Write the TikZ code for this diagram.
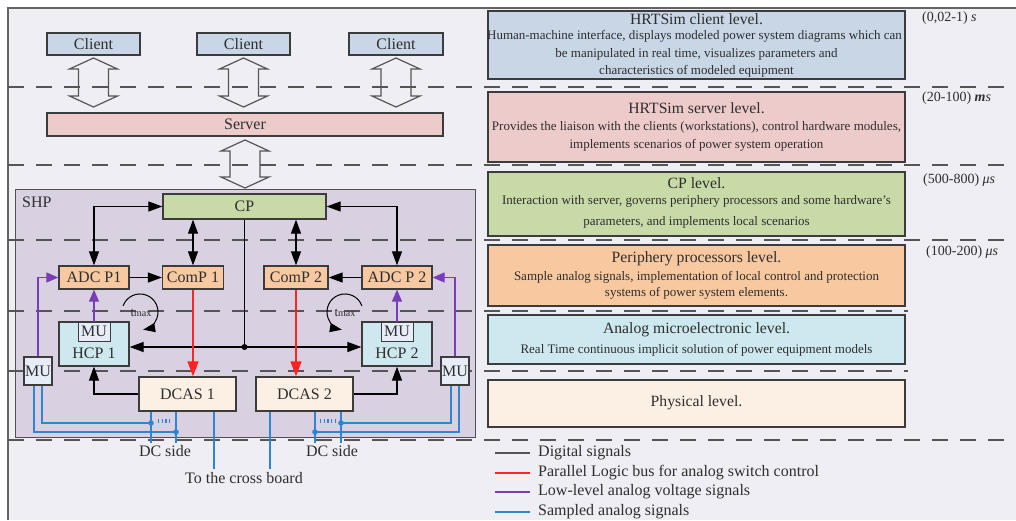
\documentclass[tikz,border=0pt]{standalone}
\usepackage{fontspec}
\setmainfont{Liberation Serif}
\usetikzlibrary{arrows.meta,calc}
\definecolor{bgc}{HTML}{EFEEF4}
\definecolor{bord}{HTML}{3C3C3C}
\definecolor{txt}{HTML}{2E2E2E}
\definecolor{dashc}{HTML}{555555}
\definecolor{clientc}{HTML}{C8D6E6}
\definecolor{serverc}{HTML}{EDCBCB}
\definecolor{cpc}{HTML}{C8DAA8}
\definecolor{perc}{HTML}{F8C8A0}
\definecolor{hcpc}{HTML}{CDE8EE}
\definecolor{muc}{HTML}{E6EDF6}
\definecolor{dcasc}{HTML}{FCEFE3}
\definecolor{shpc}{HTML}{D9D0E1}
\definecolor{sigblue}{HTML}{2E86D1}
\definecolor{sigpurple}{HTML}{7A3DB8}
\definecolor{sigred}{HTML}{FF2424}
\newcommand\fsA{\fontsize{16}{18}\selectfont}
\newcommand\fsH{\fontsize{15.7}{18}\selectfont}
\newcommand\fsB{\fontsize{13}{15}\selectfont}
\newcommand\fsL{\fontsize{16}{18}\selectfont}
\newcommand\fsT{\fontsize{14}{16}\selectfont}
\newcommand\harrow[3]{%
  \draw[harrowstyle] (#1,#2) -- ({#1+24},{#2+11}) -- ({#1+15},{#2+11}) -- ({#1+15},{#3-11}) -- ({#1+24},{#3-11}) -- (#1,#3) -- ({#1-24},{#3-11}) -- ({#1-15},{#3-11}) -- ({#1-15},{#2+11}) -- ({#1-24},{#2+11}) -- cycle;}
\begin{document}
\begin{tikzpicture}[x=1pt,y=-1pt,
  >={Triangle[length=14pt,width=10pt]},
  box/.style={draw=bord, line width=1.3pt, inner sep=0pt, font=\fsA, text=txt},
  lvbox/.style={draw=bord, line width=1.5pt, inner sep=0pt, minimum width=417pt},
  lvtitle/.style={font=\fsH, text=txt, inner sep=0pt},
  lvtext/.style={font=\fsB, text=txt, inner sep=0pt},
  dashline/.style={draw=dashc, line width=1.5pt, dash pattern=on 16pt off 12pt},
  harrowstyle/.style={draw=dashc, line width=1.2pt, line join=miter},
  conn/.style={draw=black, line width=1.2pt},
  redbus/.style={draw=sigred, line width=1.3pt},
  purp/.style={draw=sigpurple, line width=1.2pt},
  sig/.style={draw=sigblue, line width=1.2pt},
  lbl/.style={font=\fsA, text=txt, inner sep=0pt},
  leg/.style={font=\fsL, text=txt, inner sep=0pt, anchor=west},
  tlbl/.style={font=\fsT, text=txt, inner sep=0pt, anchor=west}
]
\useasboundingbox (0,0) rectangle (1016,520);
% background and frame
\fill[white] (0,0) rectangle (1016,520);
\fill[bgc] (8,8) rectangle (1016,520);
\draw[draw=bord!80, line width=1.8pt] (8,520) -- (8,8) -- (1016,8);

% SHP container
\node[draw=bord!90, fill=shpc, line width=1pt, minimum width=460pt, minimum height=248pt, inner sep=0pt] (shp) at (245,313) {};
\node[lbl, anchor=west] (shplbl) at (22,202) {SHP};

% dashed level separators
\draw[dashline] (8,87) -- (1016,87);
\draw[dashline] (8,165) -- (1016,165);
\draw[dashline] (8,240) -- (1016,240);
\draw[dashline] (8,311) -- (908,311);
\draw[dashline] (8,371) -- (908,371);
\draw[dashline] (8,440) -- (1016,440);

% clients and server
\node[box, fill=clientc, minimum width=93pt, minimum height=22pt] (cl1) at (93.5,44) {Client};
\node[box, fill=clientc, minimum width=93pt, minimum height=22pt] (cl2) at (243.5,44) {Client};
\node[box, fill=clientc, minimum width=94pt, minimum height=22pt] (cl3) at (396,44) {Client};
\node[box, fill=serverc, minimum width=396pt, minimum height=23pt] (srv) at (245,124.5) {Server};
\harrow{93.5}{58}{107}
\harrow{243.5}{58}{107}
\harrow{396}{58}{107}
\harrow{245}{140}{188}

% SHP internals
\node[box, fill=cpc, minimum width=163pt, minimum height=25pt] (cp) at (244.5,206.5) {CP};
\node[box, fill=perc, minimum width=70pt, minimum height=23pt] (adc1) at (94,277.5) {ADC P1};
\node[box, fill=perc, minimum width=61pt, minimum height=23pt] (comp1) at (193,277.5) {ComP 1};
\node[box, fill=perc, minimum width=64pt, minimum height=23pt] (comp2) at (296,277.5) {ComP 2};
\node[box, fill=perc, minimum width=70pt, minimum height=23pt] (adc2) at (397,277.5) {ADC P 2};
\node[box, fill=hcpc, minimum width=70pt, minimum height=44pt] (hcp1) at (94,344) {};
\node[lbl] (hcp1l) at (94,353) {HCP 1};
\node[box, fill=muc, line width=1pt, minimum width=32pt, minimum height=19pt] (mu1) at (94,331.5) {MU};
\node[box, fill=hcpc, minimum width=70pt, minimum height=44pt] (hcp2) at (397,344) {};
\node[lbl] (hcp2l) at (397,353) {HCP 2};
\node[box, fill=muc, line width=1pt, minimum width=32pt, minimum height=19pt] (mu2) at (397,331.5) {MU};
\node[box, fill=muc, minimum width=28pt, minimum height=28pt] (mul) at (38,371) {MU};
\node[box, fill=muc, minimum width=28pt, minimum height=28pt] (mur) at (455,371) {MU};
\node[box, fill=dcasc, minimum width=97pt, minimum height=34pt] (dcas1) at (187.5,394) {DCAS 1};
\node[box, fill=dcasc, minimum width=97pt, minimum height=34pt] (dcas2) at (304.5,394) {DCAS 2};

% digital connectors
\draw[conn,<->] (adc1.north) |- (cp.west);
\draw[conn,<->] (adc2.north) |- (cp.east);
\draw[conn,<->] (comp1.north) -- (comp1.north |- cp.south);
\draw[conn,<->] (comp2.north) -- (comp2.north |- cp.south);
\draw[conn,->] (adc1.east) -- (comp1.west);
\draw[conn,->] (adc2.west) -- (comp2.east);
\coordinate (jn) at (244.5,347);
\draw[conn] (cp.south) -- (jn);
\draw[conn,<->] (hcp1.east |- jn) -- (hcp2.west |- jn);
\fill (jn) circle (3pt);
\draw[conn,->] (dcas1.west) -| (hcp1.south);
\draw[conn,->] (dcas2.east) -| (hcp2.south);

% tmax loops
\draw[line width=1pt,-{Triangle[length=12pt,width=9pt]}] (123.1,305.8) arc[start angle=-160, end angle=80, radius=18];
\node[inner sep=0pt, text=txt] (tm1) at (141,313) {\fontsize{13}{14}\selectfont t\raisebox{-0.5pt}{\fontsize{10}{11}\selectfont max}};
\draw[line width=1pt,-{Triangle[length=12pt,width=9pt]}] (361.9,305.8) arc[start angle=-20, end angle=-260, radius=18];
\node[inner sep=0pt, text=txt] (tm2) at (345,313) {\fontsize{13}{14}\selectfont t\raisebox{-0.5pt}{\fontsize{10}{11}\selectfont max}};

% purple analog voltage
\draw[purp,-{Triangle[length=12pt,width=10pt,fill=sigpurple]}] (mu1.north) -- (adc1.south);
\draw[purp,-{Triangle[length=12pt,width=10pt,fill=sigpurple]}] (mu2.north) -- (adc2.south);
\draw[purp,-{Triangle[length=12pt,width=10pt,fill=sigpurple]}] (mul.north) |- (adc1.west);
\draw[purp,-{Triangle[length=12pt,width=10pt,fill=sigpurple]}] (mur.north) |- (adc2.east);

% red parallel bus
\draw[redbus,-{Triangle[length=15pt,width=11pt,fill=sigred]}] (comp1.south) -- (comp1.south |- dcas1.north);
\draw[redbus,-{Triangle[length=15pt,width=11pt,fill=sigred]}] (comp2.south) -- (comp2.south |- dcas2.north);

% blue sampled signals
\coordinate (dA) at (151,423);
\coordinate (dB) at (176,432);
\coordinate (dC) at (341,423);
\coordinate (dD) at (315,432);
\coordinate (eA) at (151,443);
\coordinate (eB) at (176,443);
\coordinate (eC) at (341,443);
\coordinate (eD) at (315,443);
\coordinate (xb1) at (214,469);
\coordinate (xb2) at (270,469);
\draw[sig] ([xshift=4pt]mul.south) |- (dA);
\draw[sig] ([xshift=-4pt]mul.south) |- (dB);
\draw[sig] ([xshift=-4pt]mur.south) |- (dC);
\draw[sig] ([xshift=4pt]mur.south) |- (dD);
\draw[sig] (dcas1.south -| eA) -- (eA);
\draw[sig] (dcas1.south -| eB) -- (eB);
\draw[sig] (dcas2.south -| eC) -- (eC);
\draw[sig] (dcas2.south -| eD) -- (eD);
\draw[sig] (dcas1.south -| xb1) -- (xb1);
\draw[sig] (dcas2.south -| xb2) -- (xb2);
\foreach \p in {dA,dB,dC,dD} \fill[sigblue] (\p) circle (2.8pt);
\draw[sigblue, line width=4pt, dash pattern=on 1.3pt off 2.4pt] (158,421) -- (172,421);
\draw[sigblue, line width=4pt, dash pattern=on 1.3pt off 2.4pt] (320,421) -- (335,421);
\node[lbl] (dcs1) at (165,451) {DC side};
\node[lbl] (dcs2) at (332,451) {DC side};
\node[lbl] (xbl) at (244,478) {To the cross board};

% level boxes on the right
\node[lvbox, fill=clientc, minimum height=68pt] (lv1) at (696.5,45) {};
\node[lvtitle] (lv1t) at (696.5,19) {HRTSim client level.};
\node[lvtext] (lv1a) at (694.5,36.5) {Human-machine interface, displays modeled power system diagrams which can};
\node[lvtext] (lv1b) at (696.5,54) {be manipulated in real time, visualizes parameters and};
\node[lvtext] (lv1c) at (696.5,71) {characteristics of modeled equipment};

\node[lvbox, fill=serverc, minimum height=70pt] (lv2) at (696.5,127) {};
\node[lvtitle] (lv2t) at (696.5,108) {HRTSim server level.};
\node[lvtext] (lv2a) at (696.5,127) {Provides the liaison with the clients (workstations), control hardware modules,};
\node[lvtext] (lv2b) at (696.5,145) {implements scenarios of power system operation};

\node[lvbox, fill=cpc, minimum height=64pt] (lv3) at (696.5,204) {};
\node[lvtitle] (lv3t) at (696.5,183) {CP level.};
\node[lvtext] (lv3a) at (696.5,201) {Interaction with server, governs periphery processors and some hardware's};
\node[lvtext] (lv3b) at (696.5,222) {parameters, and implements local scenarios};

\node[lvbox, fill=perc, minimum height=61pt] (lv4) at (696.5,275.5) {};
\node[lvtitle] (lv4t) at (696.5,259) {Periphery processors level.};
\node[lvtext] (lv4a) at (696.5,277) {Sample analog signals, implementation of local control and protection};
\node[lvtext] (lv4b) at (696.5,293) {systems of power system elements.};

\node[lvbox, fill=hcpc, minimum height=49pt] (lv5) at (696.5,339.5) {};
\node[lvtitle] (lv5t) at (696.5,330) {Analog microelectronic level.};
\node[lvtext] (lv5a) at (696.5,350) {Real Time continuous implicit solution of power equipment models};

\node[lvbox, fill=dcasc, minimum height=47pt] (lv6) at (696.5,403.5) {};
\node[lvtitle] (lv6t) at (696.5,403) {Physical level.};

% time scales
\node[tlbl] (ts1) at (922,18) {(0,02-1) \textit{s}};
\node[tlbl] (ts2) at (922,98) {(20-100) \textbf{\textit{m}}\textit{s}};
\node[tlbl] (ts3) at (923,180) {(500-800) \textit{μs}};
\node[tlbl] (ts4) at (926,252) {(100-200) \textit{μs}};

% legend
\coordinate (lg1a) at (495,453); \coordinate (lg1b) at (530,453);
\coordinate (lg2a) at (495,473); \coordinate (lg2b) at (530,473);
\coordinate (lg3a) at (495,492); \coordinate (lg3b) at (530,492);
\coordinate (lg4a) at (495,512); \coordinate (lg4b) at (530,512);
\draw[dashc, line width=1.8pt] (lg1a) -- (lg1b);
\draw[sigred, line width=1.2pt] (lg2a) -- (lg2b);
\draw[sigpurple, line width=1.2pt] (lg3a) -- (lg3b);
\draw[sigblue, line width=1.2pt] (lg4a) -- (lg4b);
\node[leg] (lgt1) at (538,453) {Digital signals};
\node[leg] (lgt2) at (538,473) {Parallel Logic bus for analog switch control};
\node[leg] (lgt3) at (538,492) {Low-level analog voltage signals};
\node[leg] (lgt4) at (538,512) {Sampled analog signals};
\end{tikzpicture}
\end{document}
